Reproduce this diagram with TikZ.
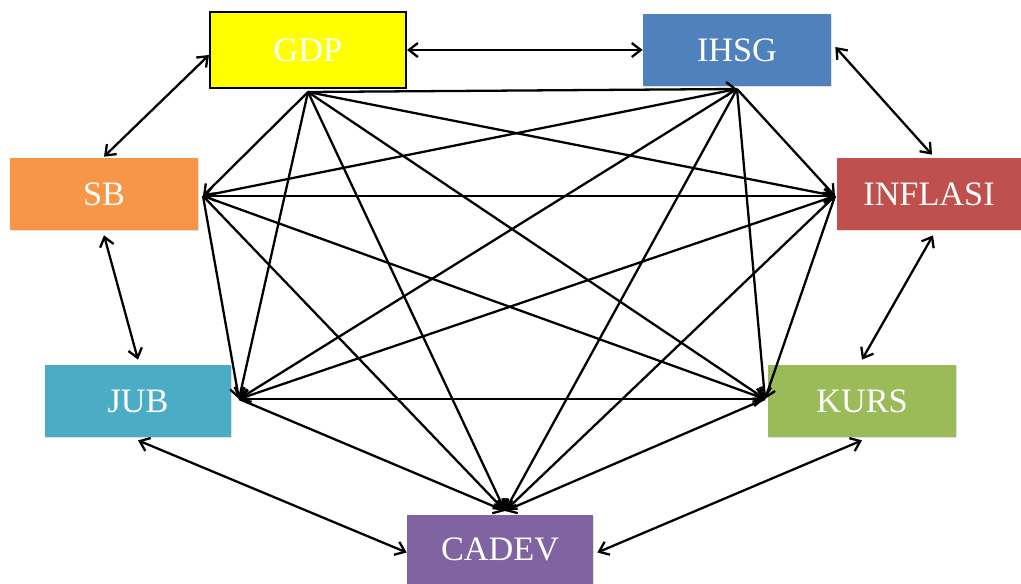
\documentclass[tikz,border=0pt]{standalone}
\usepackage{fontspec}
\setmainfont{Liberation Serif}
\usepackage{xcolor}
\usetikzlibrary{arrows.meta}
\usetikzlibrary{shadows}
\definecolor{gdpyellow}{RGB}{255,255,0}
\definecolor{ihsgblue}{RGB}{79,129,189}
\definecolor{sborange}{RGB}{247,150,70}
\definecolor{inflred}{RGB}{192,80,77}
\definecolor{jubteal}{RGB}{75,172,198}
\definecolor{kursgreen}{RGB}{155,187,89}
\definecolor{cadevpurple}{RGB}{128,100,162}
\tikzset{varbox/.style={minimum width=3.76cm,minimum height=1.44cm,inner sep=0pt,
   text=white,font=\fontsize{19.5}{22}\selectfont,
   drop shadow={opacity=0.25,shadow xshift=0.6pt,shadow yshift=-0.6pt}},
 biarrow/.style={{Straight Barb[length=1.8mm,width=2.8mm]}-{Straight Barb[length=1.8mm,width=2.8mm]},line width=1.3pt},
 link/.style={-{Straight Barb[length=1.8mm,width=2.8mm]},line width=1.3pt},
 }

\begin{document}
\begin{tikzpicture}[x=0.02cm,y=-0.02cm]
        \useasboundingbox (0,0) rectangle (1021,584);
        % the seven boxes
        \node [varbox, fill=gdpyellow, draw=black, line width=1.2pt, minimum width=3.92cm, minimum height=1.52cm] (gdp) at (308,50) {GDP};
        \node [varbox, fill=ihsgblue] (ihsg) at (737,50) {IHSG};
        \node [varbox, fill=sborange] (sb) at (104,194) {SB};
        \node [varbox, fill=inflred, minimum width=3.68cm] (inflasi) at (929,194) {INFLASI};
        \node [varbox, fill=jubteal, minimum width=3.72cm] (jub) at (138,401) {JUB};
        \node [varbox, fill=kursgreen] (kurs) at (862,401) {KURS};
        \node [varbox, fill=cadevpurple, minimum width=3.72cm, minimum height=1.38cm] (cadev) at (500,549.5) {CADEV};
        % meeting points of the inner lines
        \coordinate (g) at (308,92);
        \coordinate (i) at (737,89);
        \coordinate (s) at (203,196);
        \coordinate (f) at (835,196);
        \coordinate (j) at (239,399);
        \coordinate (k) at (765,399);
        \coordinate (c) at (505,511);
        % outer ring
        \draw [biarrow] (gdp.east) -- (ihsg.west);
        \draw [biarrow] ([xshift=0.08cm,yshift=0.06cm]ihsg.east) -- ([xshift=0.06cm,yshift=0.06cm]inflasi.north);
        \draw [biarrow] ([yshift=-0.1cm]gdp.west) -- ([yshift=0.02cm]sb.north);
        \draw [biarrow] ([yshift=-0.1cm]sb.south) -- ([yshift=0.1cm]jub.north);
        \draw [biarrow] ([xshift=0.08cm,yshift=-0.1cm]inflasi.south) -- ([yshift=0.1cm]kurs.north);
        \draw [biarrow] ([yshift=-0.06cm]jub.south) -- ([yshift=-0.06cm]cadev.west);
        \draw [biarrow] ([yshift=-0.06cm]kurs.south) -- ([xshift=0.08cm,yshift=-0.06cm]cadev.east);
        % inner lines
        \draw [link] (g) -- (i);
        \draw [link] (g) -- (s);
        \draw [link] (g) -- (f);
        \draw [link] (g) -- (j);
        \draw [link] (g) -- (k);
        \draw [link] (g) -- (c);
        \draw [link] (i) -- (s);
        \draw [link] (i) -- (f);
        \draw [link] (i) -- (j);
        \draw [link] (i) -- (k);
        \draw [link] (i) -- (c);
        \draw [link] (s) -- (f);
        \draw [link] (s) -- (j);
        \draw [link] (s) -- (k);
        \draw [link] (s) -- (c);
        \draw [link] (f) -- (j);
        \draw [link] (f) -- (k);
        \draw [link] (f) -- (c);
        \draw [link] (j) -- (k);
        \draw [link] (j) -- (c);
        \draw [link] (k) -- (c);
    \end{tikzpicture}
\end{document}
